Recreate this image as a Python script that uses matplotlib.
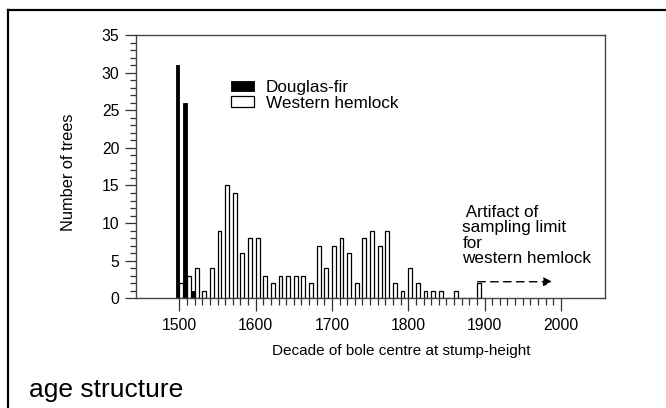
import numpy as np
import matplotlib
matplotlib.use("Agg")
import matplotlib.pyplot as plt
from matplotlib.patches import Patch
from matplotlib.lines import Line2D
from matplotlib.ticker import FixedLocator, MultipleLocator

plt.rcParams['font.family'] = ['Liberation Sans', 'DejaVu Sans']

# decade (start year) and tree counts
fir_decades = [1500, 1510, 1520]
fir_counts = [31, 26, 1]

hemlock_decades = list(range(1500, 1900, 10))
hemlock_counts = [2, 3, 4, 1, 4, 9, 15, 14, 6, 8,
                  8, 3, 2, 3, 3, 3, 3, 2, 7, 4,
                  7, 8, 6, 2, 8, 9, 7, 9, 2, 1,
                  4, 2, 1, 1, 1, 0, 1, 0, 0, 2]

major_years = [1500, 1600, 1700, 1800, 1900, 2000]
minor_years = list(range(1500, 2001, 10))

fig = plt.figure(figsize=(6.66, 4.08), dpi=100)
ax = fig.add_axes([136 / 666, 1 - 298.3 / 408, 469 / 666, 263.3 / 408])

# Douglas-fir sits left of the decade line, hemlock right of it
ax.bar(fir_decades, fir_counts, width=-5, align='edge', color='black',
       edgecolor='black', linewidth=0.6, label='Douglas-fir')
ax.bar(hemlock_decades, hemlock_counts, width=5, align='edge', color='white',
       edgecolor='black', linewidth=0.9, label='Western hemlock')

ax.set_xlim(1443, 2058)
ax.set_ylim(0, 35)

ax.xaxis.set_major_locator(FixedLocator(major_years))
ax.xaxis.set_minor_locator(FixedLocator(minor_years))
ax.yaxis.set_major_locator(MultipleLocator(5))
ax.yaxis.set_minor_locator(MultipleLocator(1))

ax.tick_params(axis='both', which='major', direction='out', color='#333333',
               width=0.9, labelsize=11.3, pad=4)
ax.tick_params(axis='y', which='major', length=8)
ax.tick_params(axis='y', which='minor', length=4.5, width=0.9, color='#333333')
ax.tick_params(axis='x', which='major', length=9, pad=5)
ax.tick_params(axis='x', which='minor', length=5, width=0.9, color='#333333')

for s in ax.spines.values():
    s.set_color('#444444')
    s.set_linewidth(1.0)

ax.set_ylabel('Number of trees', fontsize=11.8)
ax.yaxis.set_label_coords(-0.127, 0.48)
ax.set_xlabel('Decade of bole centre at stump-height', fontsize=11)
ax.xaxis.set_label_coords(0.565, -0.175)

handles = [Patch(facecolor='black', edgecolor='black', linewidth=0.6),
           Patch(facecolor='white', edgecolor='black', linewidth=0.9)]
ax.legend(handles, ['Douglas-fir', 'Western hemlock'], loc='upper left',
          bbox_to_anchor=(0.2026, 0.828), frameon=False, fontsize=12.3,
          borderpad=0, borderaxespad=0, handlelength=1.35, handleheight=0.55,
          handletextpad=0.7, labelspacing=0.02)

ax.text(1871, 12.4, ' Artifact of\nsampling limit\nfor\nwestern hemlock',
        fontsize=12.3, ha='left', va='top', linespacing=1.03)
ax.annotate('', xy=(1989, 2.2), xytext=(1891, 2.2),
            arrowprops=dict(arrowstyle='-|>', color='black', lw=1.0,
                            linestyle=(0, (5.5, 3.8)), mutation_scale=13,
                            shrinkA=0, shrinkB=0))

fig.text(29 / 666, 1 - 397 / 408, 'age structure', fontsize=19,
         ha='left', va='baseline')

# border of the clipped screenshot (top and left only)
fig.add_artist(Line2D([8 / 666, 1], [1 - 10 / 408, 1 - 10 / 408],
                      transform=fig.transFigure, color='black', lw=1.6))
fig.add_artist(Line2D([8 / 666, 8 / 666], [0, 1 - 10 / 408],
                      transform=fig.transFigure, color='black', lw=1.6))

fig.savefig('out.png', dpi=100)
